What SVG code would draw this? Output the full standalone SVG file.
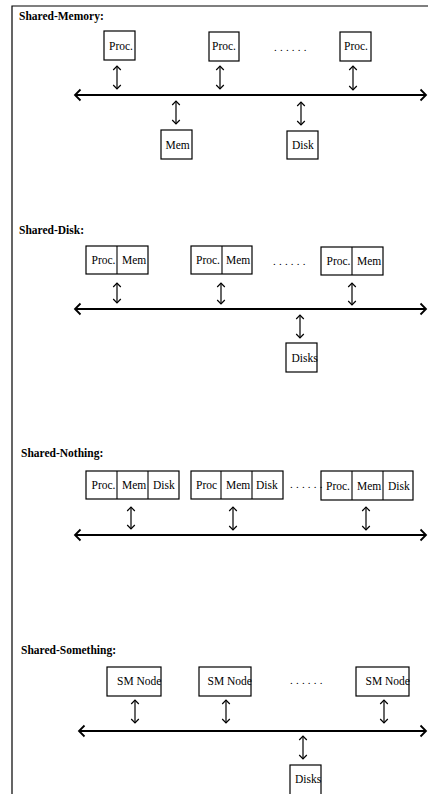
<svg xmlns="http://www.w3.org/2000/svg" width="428" height="794" viewBox="0 0 428 794">
<style>
  .title { font-family: "Liberation Serif", "Times New Roman", serif; font-size: 11.5px; font-weight: bold; fill: #000; }
  .lbl { font-family: "Liberation Serif", "Times New Roman", serif; font-size: 11.5px; fill: #000; }
  .dots { font-family: "Liberation Serif", "Times New Roman", serif; font-size: 11px; fill: #000; letter-spacing: 3.2px; }
  .box { fill: #fff; stroke: #000; stroke-width: 1.2; }
  .div { stroke: #000; stroke-width: 1.1; }
  .bus { stroke: #000; stroke-width: 2; fill: none; }
  .va { stroke: #000; stroke-width: 1.2; fill: none; }
  .frame { stroke: #000; stroke-width: 1.2; fill: none; }
</style>
<defs>
  <marker id="bh" markerUnits="userSpaceOnUse" markerWidth="10" markerHeight="14" refX="7" refY="7" orient="auto-start-reverse">
    <path d="M1.5,1.5 L7,7 L1.5,12.5" fill="none" stroke="#000" stroke-width="1.8"/>
  </marker>
  <marker id="sh" markerUnits="userSpaceOnUse" markerWidth="8" markerHeight="10" refX="5" refY="5" orient="auto-start-reverse">
    <path d="M1,1.2 L5,5 L1,8.8" fill="none" stroke="#000" stroke-width="1.2"/>
  </marker>
</defs>
<rect width="428" height="794" fill="#fff"/>
<path class="frame" d="M12,794 L12,6 L428,6"/>

<!-- Section titles -->
<text class="title" x="19" y="20">Shared-Memory:</text>
<text class="title" x="19" y="234">Shared-Disk:</text>
<text class="title" x="21" y="457">Shared-Nothing:</text>
<text class="title" x="21" y="654">Shared-Something:</text>

<!-- Shared-Memory -->
<g id="sm-proc1"><rect class="box" x="104" y="31" width="31" height="29"/><text class="lbl" x="109" y="49.5">Proc.</text></g>
<g id="sm-proc2"><rect class="box" x="209" y="32" width="30" height="29"/><text class="lbl" x="212" y="50">Proc.</text></g>
<g id="sm-proc3"><rect class="box" x="340" y="32" width="31" height="29"/><text class="lbl" x="344" y="50">Proc.</text></g>
<text class="dots" x="274" y="51">......</text>
<g id="sm-mem"><rect class="box" x="161" y="130" width="31" height="29"/><text class="lbl" x="165.5" y="148.5">Mem</text></g>
<g id="sm-disk"><rect class="box" x="287" y="131" width="31" height="28"/><text class="lbl" x="292" y="149">Disk</text></g>

<!-- Shared-Disk -->
<g id="sd-node1"><rect class="box" x="86" y="246" width="62" height="28"/><line class="div" x1="117" y1="246" x2="117" y2="274"/><text class="lbl" x="91.5" y="264">Proc.</text><text class="lbl" x="122" y="264">Mem</text></g>
<g id="sd-node2"><rect class="box" x="191" y="246" width="61" height="28"/><line class="div" x1="222" y1="246" x2="222" y2="274"/><text class="lbl" x="196" y="264">Proc.</text><text class="lbl" x="226" y="264">Mem</text></g>
<g id="sd-node3"><rect class="box" x="321" y="247" width="62" height="28"/><line class="div" x1="352" y1="247" x2="352" y2="275"/><text class="lbl" x="326.5" y="265">Proc.</text><text class="lbl" x="357" y="265">Mem</text></g>
<text class="dots" x="273" y="265">......</text>
<g id="sd-disks"><rect class="box" x="286" y="343" width="31" height="29"/><text class="lbl" x="291.5" y="361.5">Disks</text></g>

<!-- Shared-Nothing -->
<g id="sn-node1"><rect class="box" x="86" y="471" width="93" height="28"/><line class="div" x1="117" y1="471" x2="117" y2="499"/><line class="div" x1="148" y1="471" x2="148" y2="499"/><text class="lbl" x="91.5" y="489">Proc.</text><text class="lbl" x="122" y="489">Mem</text><text class="lbl" x="153" y="489">Disk</text></g>
<g id="sn-node2"><rect class="box" x="191" y="471" width="92" height="28"/><line class="div" x1="221" y1="471" x2="221" y2="499"/><line class="div" x1="252" y1="471" x2="252" y2="499"/><text class="lbl" x="196" y="489">Proc</text><text class="lbl" x="226" y="489">Mem</text><text class="lbl" x="256" y="489">Disk</text></g>
<g id="sn-node3"><rect class="box" x="321" y="471" width="92" height="29"/><line class="div" x1="352" y1="471" x2="352" y2="500"/><line class="div" x1="383" y1="471" x2="383" y2="500"/><text class="lbl" x="326" y="489.5">Proc.</text><text class="lbl" x="357" y="489.5">Mem</text><text class="lbl" x="388" y="489.5">Disk</text></g>
<text class="dots" x="290" y="488">......</text>

<!-- Shared-Something -->
<g id="ss-node1"><rect class="box" x="107" y="667" width="54" height="29"/><text class="lbl" x="117" y="685">SM Node</text></g>
<g id="ss-node2"><rect class="box" x="199" y="667" width="52" height="29"/><text class="lbl" x="207.5" y="685">SM Node</text></g>
<g id="ss-node3"><rect class="box" x="356" y="667" width="53" height="29"/><text class="lbl" x="365.5" y="685">SM Node</text></g>
<text class="dots" x="290" y="684">......</text>
<g id="ss-disks"><rect class="box" x="290" y="765" width="31" height="32"/><text class="lbl" x="295" y="783">Disks</text></g>

<!-- Connectors -->
<g id="connectors">
  <line class="bus" x1="75" y1="95" x2="426" y2="95" marker-start="url(#bh)" marker-end="url(#bh)"/>
  <line class="va" x1="117" y1="66" x2="117" y2="89" marker-start="url(#sh)" marker-end="url(#sh)"/>
  <line class="va" x1="220" y1="66" x2="220" y2="89" marker-start="url(#sh)" marker-end="url(#sh)"/>
  <line class="va" x1="353" y1="66" x2="353" y2="90" marker-start="url(#sh)" marker-end="url(#sh)"/>
  <line class="va" x1="176" y1="101" x2="176" y2="124" marker-start="url(#sh)" marker-end="url(#sh)"/>
  <line class="va" x1="301" y1="102" x2="301" y2="125" marker-start="url(#sh)" marker-end="url(#sh)"/>

  <line class="bus" x1="75" y1="309" x2="426" y2="309" marker-start="url(#bh)" marker-end="url(#bh)"/>
  <line class="va" x1="117" y1="283" x2="117" y2="303" marker-start="url(#sh)" marker-end="url(#sh)"/>
  <line class="va" x1="221" y1="283" x2="221" y2="304" marker-start="url(#sh)" marker-end="url(#sh)"/>
  <line class="va" x1="352" y1="283" x2="352" y2="305" marker-start="url(#sh)" marker-end="url(#sh)"/>
  <line class="va" x1="300" y1="315" x2="300" y2="338" marker-start="url(#sh)" marker-end="url(#sh)"/>

  <line class="bus" x1="75" y1="535" x2="426" y2="535" marker-start="url(#bh)" marker-end="url(#bh)"/>
  <line class="va" x1="131" y1="507" x2="131" y2="529" marker-start="url(#sh)" marker-end="url(#sh)"/>
  <line class="va" x1="233" y1="507" x2="233" y2="530" marker-start="url(#sh)" marker-end="url(#sh)"/>
  <line class="va" x1="366" y1="507" x2="366" y2="530" marker-start="url(#sh)" marker-end="url(#sh)"/>

  <line class="bus" x1="79" y1="731" x2="426" y2="731" marker-start="url(#bh)" marker-end="url(#bh)"/>
  <line class="va" x1="135" y1="700" x2="135" y2="723" marker-start="url(#sh)" marker-end="url(#sh)"/>
  <line class="va" x1="226" y1="700" x2="226" y2="723" marker-start="url(#sh)" marker-end="url(#sh)"/>
  <line class="va" x1="384" y1="700" x2="384" y2="723" marker-start="url(#sh)" marker-end="url(#sh)"/>
  <line class="va" x1="303" y1="736" x2="303" y2="759" marker-start="url(#sh)" marker-end="url(#sh)"/>
</g>
</svg>
